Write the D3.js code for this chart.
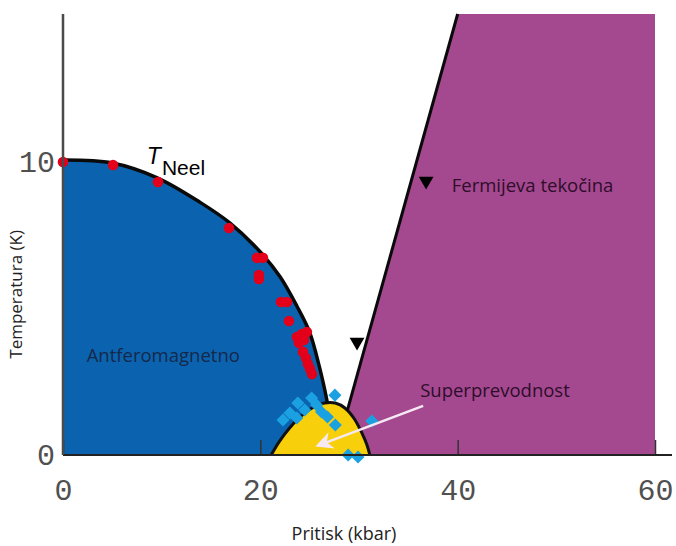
<!DOCTYPE html>
<meta charset="utf-8">
<style>
body { margin: 0; background: white; }
.tick text { font-family: "Liberation Mono", monospace; fill: #505050; }
.lbl { font-family: "Open Sans", sans-serif; }
</style>
<script src="https://d3js.org/d3.v7.min.js"></script>
<body>
<script>
// Neel line (pressure kbar, temperature K)
const neelP = [0, 5, 9.5, 13.9, 16.9, 20, 22, 23.7, 25, 26, 26.55, 26.8];
const neelT = [10.1, 10.0, 9.5, 8.65, 7.95, 6.95, 6.1, 5.1, 4.2, 3.0, 2.2, 1.78];

// superconducting dome
const domeP = [21.1, 21.9, 22.9, 24.0, 25.2, 26.5, 27.6, 28.6, 29.5, 30.3, 30.8, 31.1];
const domeT = [0, 0.45, 0.9, 1.3, 1.6, 1.78, 1.78, 1.6, 1.25, 0.75, 0.35, 0];

// Fermi liquid boundary
const fermiP = [28.8, 40];
const fermiT = [1.5, 15.1];

// red dots (T_Neel measurements)
const dotP = [0, 5.07, 9.63, 16.82, 19.66, 20.26, 19.86, 19.86, 22.09, 22.7, 22.9,
              23.71, 24.21, 24.72, 23.91, 24.42, 24.32, 24.62, 24.82, 25.03, 25.23];
const dotT = [10.03, 9.93, 9.35, 7.77, 6.75, 6.75, 6.16, 6.03, 5.24, 5.24, 4.59,
              4.04, 4.14, 4.21, 3.84, 3.94, 3.53, 3.32, 3.12, 2.95, 2.77];

// cyan diamonds (Tc measurements)
const diaP = [27.56, 23.8, 23.0, 25.2, 25.7, 26.2, 26.8, 27.6, 24.5, 22.3, 23.7, 31.3, 28.9, 29.9];
const diaT = [2.05, 1.78, 1.44, 1.95, 1.71, 1.47, 1.30, 1.03, 1.54, 1.2, 1.27, 1.16, 0, -0.07];

// black triangles
const triP = [29.8, 36.8];
const triT = [3.87, 9.38];

const xTicks = [0, 20, 40, 60];
const yTicks = [0, 10];

const margin = { top: 14, right: 21, bottom: 91, left: 63 };
const width = 676 - margin.left - margin.right;
const height = 546 - margin.top - margin.bottom;

const svg = d3.select('body')
  .append('svg')
    .attr('width', 676)
    .attr('height', 546)
  .append('g')
    .attr('transform', `translate(${margin.left}, ${margin.top})`);

const x = d3.scaleLinear().domain([0, 60]).range([0, width]);
const y = d3.scaleLinear().domain([0, 15.1]).range([height, 0]);

const neel = neelP.map((p, i) => [p, neelT[i]]);
const dome = domeP.map((p, i) => [p, domeT[i]]);
const smooth = d3.curveCatmullRom.alpha(0.5);

// antiferromagnetic region
svg.append('path')
  .datum(neel)
  .attr('fill', '#0B63AF')
  .attr('d', d3.area().curve(smooth)
    .x(d => x(d[0])).y0(y(0)).y1(d => y(d[1])));

// Fermi liquid region
const purple = [
  [fermiP[0], fermiT[0]], [fermiP[1], fermiT[1]],
  [60, fermiT[1]], [60, 0], [fermiP[0], 0]
];
svg.append('path')
  .datum(purple)
  .attr('fill', '#A4498F')
  .attr('d', d3.line().x(d => x(d[0])).y(d => y(d[1])));

// dome
svg.append('path')
  .datum(dome)
  .attr('fill', '#F7CF0A')
  .attr('d', d3.area().curve(smooth)
    .x(d => x(d[0])).y0(y(0)).y1(d => y(d[1])));
svg.append('path')
  .datum(dome)
  .attr('fill', 'none')
  .attr('stroke', '#111')
  .attr('stroke-width', 3)
  .attr('d', d3.line().curve(smooth).x(d => x(d[0])).y(d => y(d[1])));

// lines
svg.append('path')
  .datum(neel)
  .attr('fill', 'none')
  .attr('stroke', '#0a0a0a')
  .attr('stroke-width', 3.5)
  .attr('d', d3.line().curve(smooth).x(d => x(d[0])).y(d => y(d[1])));

svg.append('path')
  .datum(fermiP.map((p, i) => [p, fermiT[i]]))
  .attr('fill', 'none')
  .attr('stroke', '#0a0a0a')
  .attr('stroke-width', 3)
  .attr('d', d3.line().x(d => x(d[0])).y(d => y(d[1])));

// markers
svg.selectAll('.dot')
  .data(dotP)
  .enter().append('circle')
    .attr('class', 'dot')
    .attr('cx', d => x(d))
    .attr('cy', (d, i) => y(dotT[i]))
    .attr('r', 5.3)
    .attr('fill', '#E2001A');

svg.selectAll('.dia')
  .data(diaP)
  .enter().append('path')
    .attr('class', 'dia')
    .attr('d', d3.symbol().type(d3.symbolSquare).size(85))
    .attr('transform', (d, i) => `translate(${x(d)},${y(diaT[i])}) rotate(45)`)
    .attr('fill', '#1BA1E2');

svg.selectAll('.tri')
  .data(triP)
  .enter().append('path')
    .attr('class', 'tri')
    .attr('d', d3.symbol().type(d3.symbolTriangle).size(95))
    .attr('transform', (d, i) => `translate(${x(d)},${y(triT[i])}) rotate(180)`)
    .attr('fill', '#000');

// arrow
svg.append('defs').append('marker')
    .attr('id', 'head')
    .attr('viewBox', '0 0 10 10')
    .attr('refX', 8).attr('refY', 5)
    .attr('markerWidth', 7).attr('markerHeight', 7)
    .attr('orient', 'auto')
  .append('path')
    .attr('d', 'M0,0 L10,5 L0,10 L3,5 Z')
    .attr('fill', '#F6E9F4');
svg.append('line')
  .attr('x1', x(36.5)).attr('y1', y(1.68))
  .attr('x2', x(25.9)).attr('y2', y(0.33))
  .attr('stroke', '#F6E9F4')
  .attr('stroke-width', 2.5)
  .attr('marker-end', 'url(#head)');

// axes
const xAxis = svg.append('g')
  .attr('transform', `translate(0, ${height})`)
  .call(d3.axisBottom(x).tickValues(xTicks).tickSize(-15).tickPadding(24).tickFormat(d3.format('d')));
xAxis.select('.domain').remove();
xAxis.selectAll('line').attr('stroke', '#333').attr('stroke-width', 1.5);
xAxis.selectAll('text').style('font-size', '30px');
svg.append('line')
  .attr('x1', x(0)).attr('x2', x(60) + 17)
  .attr('y1', y(0)).attr('y2', y(0))
  .attr('stroke', '#222').attr('stroke-width', 2);

const yAxis = svg.append('g')
  .call(d3.axisLeft(y).tickValues(yTicks).tickSize(0).tickPadding(8).tickFormat(d3.format('d')));
yAxis.select('.domain').remove();
yAxis.selectAll('text').style('font-size', '30px').attr('dy', '0.3em');
svg.append('line')
  .attr('x1', x(0)).attr('x2', x(0))
  .attr('y1', y(0)).attr('y2', 0)
  .attr('stroke', '#4a4a4a').attr('stroke-width', 2.5);

// labels
svg.append('text').attr('class', 'lbl')
  .attr('x', x(30) - 15).attr('y', height + 85)
  .attr('text-anchor', 'middle')
  .style('font-size', '18px').attr('fill', '#222')
  .text('Pritisk (kbar)');

svg.append('text').attr('class', 'lbl')
  .attr('transform', `translate(${-41}, ${y(5.5)}) rotate(-90)`)
  .attr('text-anchor', 'middle')
  .style('font-size', '17px').attr('fill', '#222')
  .text('Temperatura (K)');

svg.append('text').attr('class', 'lbl')
  .attr('x', x(2.4)).attr('y', y(3.2))
  .style('font-size', '18.5px').attr('fill', '#15284a')
  .text('Antferomagnetno');

svg.append('text').attr('class', 'lbl')
  .attr('x', x(36.2)).attr('y', y(2.0))
  .style('font-size', '18.5px').attr('fill', '#2e0d2b')
  .text('Superprevodnost');

svg.append('text').attr('class', 'lbl')
  .attr('x', x(39.4)).attr('y', y(9.0))
  .style('font-size', '18.5px').attr('fill', '#2e0d2b')
  .text('Fermijeva tekočina');

const tn = svg.append('text')
  .attr('x', x(8.5)).attr('y', y(9.95))
  .style('font-family', '"Liberation Sans", Arial, sans-serif')
  .attr('fill', '#000');
tn.append('tspan').style('font-style', 'italic').style('font-size', '23px').text('T');
tn.append('tspan').attr('dy', 11).attr('dx', 1).style('font-size', '21px').text('Neel');
</script>
</body>
